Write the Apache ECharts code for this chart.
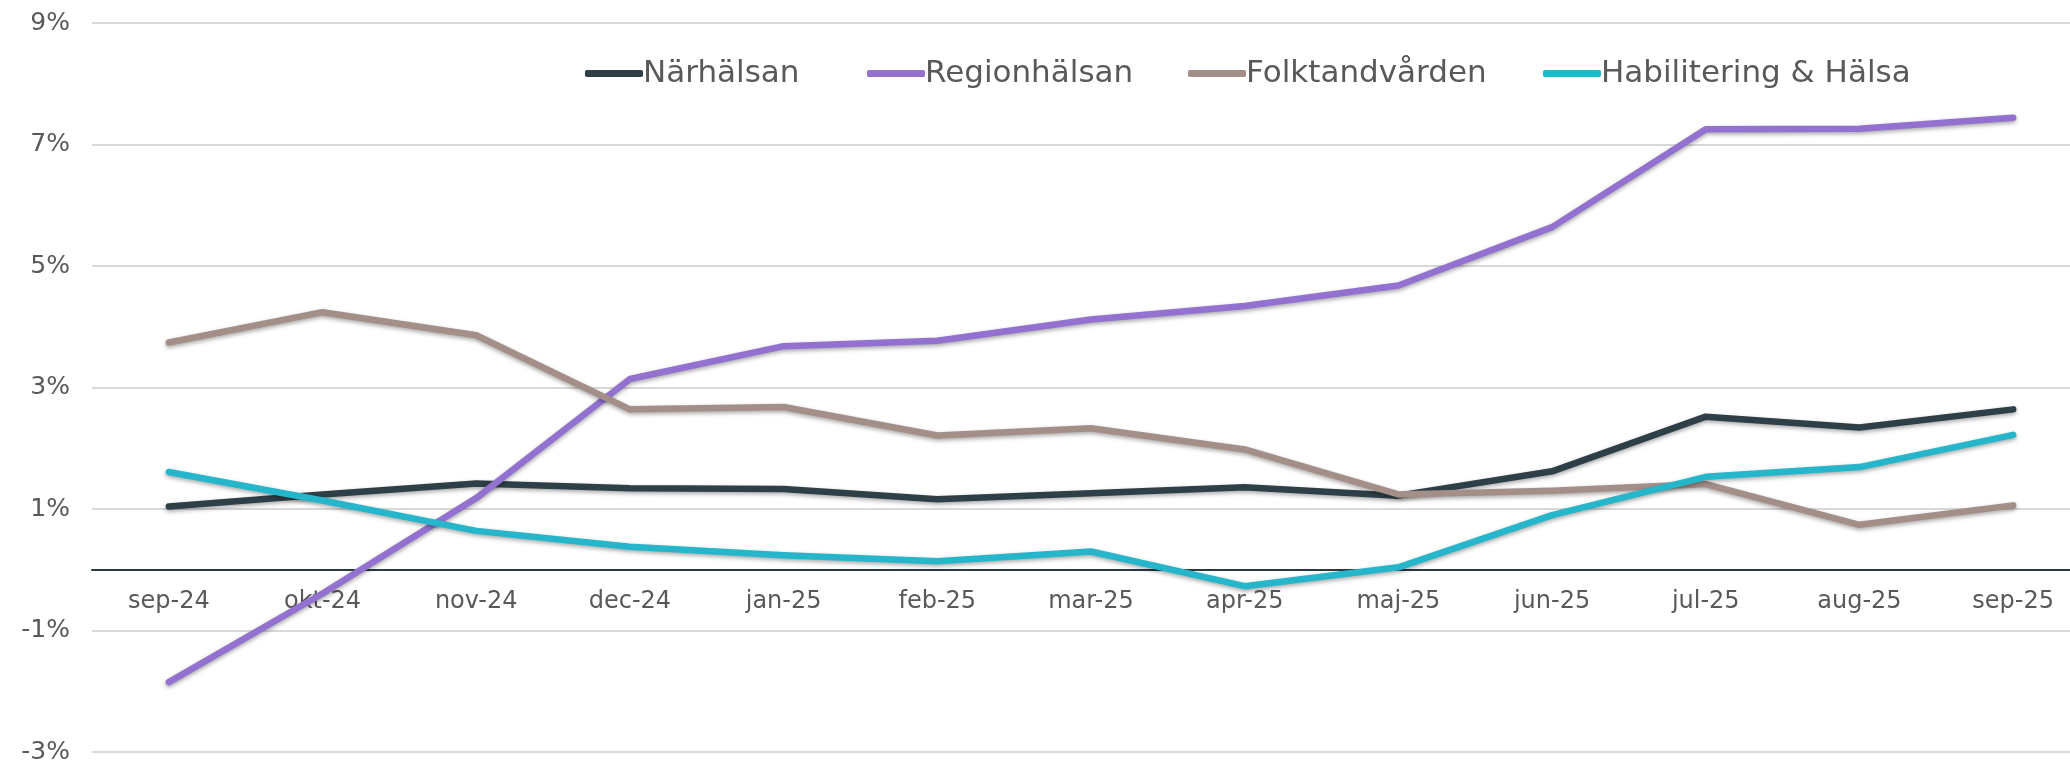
<!DOCTYPE html>
<html>
<head>
<meta charset="utf-8">
<script src="https://cdn.jsdelivr.net/npm/echarts@6/dist/echarts.min.js"></script>
<style>
  html, body { margin: 0; padding: 0; background: #fff; }
  #chart { width: 2070px; height: 762px; }
</style>
</head>
<body>
<div id="chart"></div>
<script>
// months on the x axis
const months = ['sep-24', 'okt-24', 'nov-24', 'dec-24', 'jan-25', 'feb-25', 'mar-25',
  'apr-25', 'maj-25', 'jun-25', 'jul-25', 'aug-25', 'sep-25'];

// values in percent
const narhalsan = [1.04, 1.24, 1.42, 1.34, 1.33, 1.16, 1.26, 1.36, 1.22, 1.62, 2.52, 2.34, 2.64];
const regionhalsan = [-1.85, -0.39, 1.18, 3.14, 3.68, 3.77, 4.12, 4.34, 4.68, 5.64, 7.25, 7.26, 7.44];
const folktandvarden = [3.74, 4.24, 3.86, 2.64, 2.68, 2.21, 2.33, 1.98, 1.24, 1.30, 1.41, 0.74, 1.06];
const habilitering = [1.61, 1.14, 0.64, 0.38, 0.24, 0.14, 0.30, -0.27, 0.04, 0.90, 1.53, 1.69, 2.22];

const seriesNames = ['Närhälsan', 'Regionhälsan', 'Folktandvården', 'Habilitering & Hälsa'];
const colors = ['#2e3f47', '#9271d0', '#a48f88', '#25b6cb'];

const yMin = -3;
const yMax = 9;

const font = '"DejaVu Sans", Verdana, sans-serif';

const gridTop = 23;
const gridBottom = 10;
const chartHeight = 762;

// legend entries are not evenly spaced in the original, so one legend per entry
const legendLefts = [580, 862, 1183, 1538];

function makeLine(name, data, color) {
  return {
    name: name,
    type: 'line',
    data: data,
    symbol: 'none',
    smooth: false,
    lineStyle: {
      width: 6.5,
      color: color,
      cap: 'round',
      join: 'round',
      shadowColor: 'rgba(0,0,0,0.35)',
      shadowBlur: 4,
      shadowOffsetY: 2
    },
    itemStyle: { color: color }
  };
}

function makeLegend(name, left) {
  return {
    data: [name],
    left: left,
    top: 53,
    icon: 'roundRect',
    itemWidth: 58,
    itemHeight: 7,
    textStyle: { fontSize: 31, color: '#595959', fontFamily: font, padding: [0, 0, 0, -5] }
  };
}

// the x axis sits on the zero line, move it up from the bottom of the grid
const plotHeight = chartHeight - gridTop - gridBottom;
const zeroOffset = -plotHeight * (0 - yMin) / (yMax - yMin);

const chart = echarts.init(document.getElementById('chart'));
chart.setOption({
  animation: false,
  textStyle: { fontFamily: font },
  grid: { left: 92, right: -20, top: gridTop, bottom: gridBottom, containLabel: false, outerBoundsMode: 'none' },
  legend: seriesNames.map(function (n, i) { return makeLegend(n, legendLefts[i]); }),
  xAxis: {
    type: 'category',
    data: months,
    boundaryGap: true,
    offset: zeroOffset,
    axisLine: { onZero: false, lineStyle: { color: '#2b3a40', width: 2 } },
    axisTick: { show: false },
    axisLabel: { fontSize: 24, color: '#595959', margin: 20, fontFamily: font },
    splitLine: { show: false }
  },
  yAxis: {
    type: 'value',
    min: yMin,
    max: yMax,
    interval: 2,
    axisLine: { show: false },
    axisTick: { show: false },
    axisLabel: {
      fontSize: 25, color: '#595959', margin: 22, fontFamily: font,
      formatter: function (v) { return v + '%'; }
    },
    splitLine: { lineStyle: { color: '#d9d9d9', width: 2 } }
  },
  series: [
    makeLine(seriesNames[0], narhalsan, colors[0]),
    makeLine(seriesNames[1], regionhalsan, colors[1]),
    makeLine(seriesNames[2], folktandvarden, colors[2]),
    makeLine(seriesNames[3], habilitering, colors[3])
  ]
});
</script>
</body>
</html>
